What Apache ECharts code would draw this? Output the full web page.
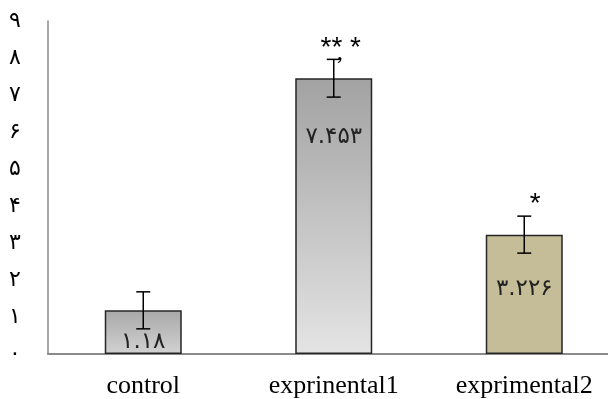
<!DOCTYPE html>
<html>
<head>
<meta charset="utf-8">
<script src="https://cdn.jsdelivr.net/npm/echarts@6/dist/echarts.min.js"></script>
<style>html,body{margin:0;padding:0;background:#fff}#c{width:608px;height:399px}</style>
</head>
<body>
<div id="c"></div>
<script>
const categories = ['control', 'exprinental1', 'exprimental2'];
const values = [1.18, 7.453, 3.226];
const errors = [0.5, 0.51, 0.5];
const marks = ['', '** *', '*'];
const yTickLabels = ['۰','۱','۲','۳','۴','۵','۶','۷','۸','۹'];

const faDigits = '۰۱۲۳۴۵۶۷۸۹';
function toFa(v){ return String(v).replace(/[0-9]/g, d => faDigits[+d]); }

const fills = [
  {type:'linear',x:0,y:0,x2:0,y2:1,colorStops:[{offset:0,color:'#a8a8a8'},{offset:1,color:'#d2d2d2'}]},
  {type:'linear',x:0,y:0,x2:0,y2:1,colorStops:[{offset:0,color:'#a2a2a2'},{offset:1,color:'#e4e4e4'}]},
  '#c5bd98'
];
const labelPos = [
  {position:'insideBottom', distance:0},
  {position:'insideTop', distance:47},
  {position:'insideTop', distance:43}
];

const chart = echarts.init(document.getElementById('c'));
chart.setOption({
  animation:false,
  grid:{left:48, top:21, right:-11.5, bottom:45, containLabel:false, outerBoundsMode:'none'},
  xAxis:{
    type:'category', data:categories,
    axisLine:{lineStyle:{color:'#8a8a8a', width:2}},
    axisTick:{show:false},
    axisLabel:{color:'#000', fontFamily:'Liberation Serif, Times New Roman, serif', fontSize:26, margin:19}
  },
  yAxis:{
    type:'value', min:0, max:9, interval:1,
    axisLine:{show:true, lineStyle:{color:'#8a8a8a', width:1.5}},
    axisTick:{show:false},
    splitLine:{show:false},
    axisLabel:{color:'#000', fontFamily:'DejaVu Sans, Noto Sans, sans-serif', fontSize:22, margin:33, align:'center',
      padding:[14,0,0,0],
      formatter:(v)=>yTickLabels[Math.round(v)]}
  },
  series:[
    {
      type:'bar', barWidth:77,
      data: values.map((v,i)=>({
        value:v,
        itemStyle:{color:fills[i], borderColor:'#262626', borderWidth:1.5},
        label:{show:true, position:labelPos[i].position, distance:labelPos[i].distance,
          formatter:()=>toFa(v), color:'#222', fontSize:23, fontFamily:'DejaVu Sans, Noto Sans, sans-serif'}
      }))
    },
    {
      type:'custom',
      data: values.map((v,i)=>[i, v, errors[i]]),
      renderItem:(params, api)=>{
        const i = api.value(0), v = api.value(1), e = api.value(2);
        const m = marks[params.dataIndex];
        const top = api.coord([i, v+e]);
        const bot = api.coord([i, v-e]);
        const x = top[0], hw = 7;
        const children = [
          {type:'line', shape:{x1:x,y1:top[1],x2:x,y2:bot[1]}, style:{stroke:'#000', lineWidth:1.5}},
          {type:'line', shape:{x1:x-hw,y1:top[1],x2:x+hw,y2:top[1]}, style:{stroke:'#000', lineWidth:1.5}},
          {type:'line', shape:{x1:x-hw,y1:bot[1],x2:x+hw,y2:bot[1]}, style:{stroke:'#000', lineWidth:1.5}}
        ];
        if (m === '** *') {
          children.push({type:'text', style:{text:m, x:x+7, y:top[1]-11, align:'center', verticalAlign:'middle',
            fill:'#000', font:'28px Liberation Sans, Arial, sans-serif'}});
          children.push({type:'text', style:{text:'’', x:x+6, y:top[1]+6, align:'center', verticalAlign:'middle',
            fill:'#000', font:'24px Liberation Serif, serif'}});
        } else if (m) {
          children.push({type:'text', style:{text:m, x:x+11, y:top[1]-12, align:'center', verticalAlign:'middle',
            fill:'#000', font:'28px Liberation Sans, Arial, sans-serif'}});
        }
        return {type:'group', children};
      },
      z:10
    }
  ]
});
</script>
</body>
</html>
